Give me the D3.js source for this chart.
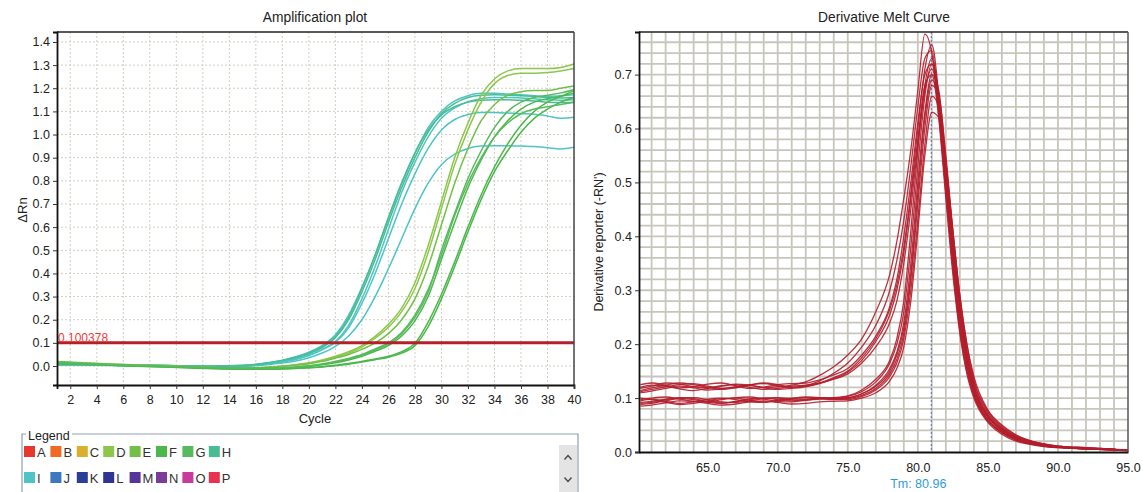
<!DOCTYPE html>
<html>
<head>
<meta charset="utf-8">
<script src="https://cdn.jsdelivr.net/npm/d3@7"></script>
<style>
  body { margin: 0; background: #fff; }
  svg text { font-family: Arial, "Liberation Sans", sans-serif; fill: #222; }
</style>
</head>
<body>
<svg id="chart" width="1143" height="492"></svg>
<script>

// ---------------- data : amplification plot ----------------
const ampCycles = [1, 3, 5, 7, 9, 11, 13, 15, 17, 18, 19, 20, 21, 22, 23, 24, 25, 26, 27, 28,
                   29, 30, 31, 32, 33, 34, 35, 36, 37, 38, 39, 40];
const ampXTicks = [2, 4, 6, 8, 10, 12, 14, 16, 18, 20, 22, 24, 26, 28, 30, 32, 34, 36, 38, 40];
const ampYTicks = [0.0, 0.1, 0.2, 0.3, 0.4, 0.5, 0.6, 0.7, 0.8, 0.9, 1.0, 1.1, 1.2, 1.3, 1.4];
const threshold = 0.100378;

// which well each curve belongs to
const ampWells = ['I', 'H', 'I', 'I', 'I', 'H', 'D', 'D', 'E', 'G', 'F', 'F', 'F', 'G'];
const ampValues = [
  [0.008,0.006,0.004,0.003,0.002,0.001,0.0,0.003,0.015,0.025,0.04,0.06,0.088,0.135,0.22,0.34,0.48,0.64,0.79,0.92,1.03,1.1,1.145,1.168,1.178,1.178,1.175,1.172,1.168,1.165,1.168,1.172],
  [0.01,0.007,0.005,0.003,0.002,0.001,0.0,0.002,0.013,0.022,0.035,0.053,0.08,0.122,0.2,0.32,0.46,0.62,0.77,0.9,1.01,1.09,1.135,1.16,1.17,1.172,1.17,1.168,1.165,1.16,1.158,1.16],
  [0.006,0.005,0.004,0.003,0.002,0.0,-0.002,0.0,0.01,0.018,0.03,0.047,0.072,0.106,0.175,0.29,0.43,0.59,0.75,0.88,0.99,1.07,1.115,1.142,1.155,1.16,1.16,1.158,1.155,1.15,1.148,1.15],
  [0.005,0.004,0.003,0.002,0.001,0.0,-0.002,0.0,0.01,0.017,0.028,0.045,0.07,0.102,0.165,0.27,0.4,0.55,0.7,0.83,0.94,1.02,1.065,1.087,1.095,1.095,1.093,1.09,1.088,1.08,1.07,1.075],
  [0.004,0.003,0.002,0.001,0.0,-0.001,-0.003,-0.002,0.007,0.013,0.022,0.036,0.056,0.085,0.13,0.2,0.3,0.42,0.55,0.68,0.79,0.87,0.915,0.94,0.95,0.952,0.952,0.95,0.948,0.943,0.938,0.945],
  [0.012,0.008,0.005,0.003,0.002,0.0,-0.001,0.001,0.014,0.024,0.038,0.057,0.085,0.128,0.21,0.335,0.48,0.64,0.79,0.92,1.02,1.085,1.12,1.14,1.148,1.15,1.15,1.148,1.145,1.14,1.138,1.14],
  [0.018,0.012,0.008,0.004,0.001,-0.003,-0.007,-0.008,-0.004,0.0,0.006,0.014,0.026,0.042,0.062,0.088,0.128,0.18,0.25,0.36,0.52,0.71,0.9,1.05,1.17,1.24,1.275,1.285,1.285,1.285,1.29,1.305],
  [0.016,0.011,0.007,0.003,0.0,-0.004,-0.008,-0.009,-0.005,-0.001,0.004,0.012,0.023,0.038,0.056,0.082,0.12,0.168,0.235,0.335,0.49,0.68,0.87,1.02,1.14,1.22,1.255,1.265,1.265,1.268,1.275,1.285],
  [0.02,0.014,0.009,0.005,0.001,-0.003,-0.007,-0.009,-0.006,-0.002,0.003,0.01,0.02,0.034,0.05,0.072,0.1,0.14,0.2,0.29,0.43,0.61,0.79,0.94,1.06,1.13,1.17,1.185,1.19,1.19,1.2,1.21],
  [0.015,0.01,0.006,0.002,-0.001,-0.005,-0.009,-0.011,-0.01,-0.008,-0.005,0.0,0.008,0.018,0.03,0.047,0.07,0.095,0.14,0.21,0.32,0.5,0.66,0.81,0.93,1.03,1.1,1.14,1.16,1.17,1.18,1.195],
  [0.013,0.009,0.005,0.001,-0.002,-0.006,-0.01,-0.012,-0.011,-0.009,-0.006,-0.002,0.005,0.014,0.026,0.042,0.064,0.088,0.13,0.195,0.3,0.46,0.62,0.77,0.89,0.99,1.06,1.11,1.14,1.155,1.165,1.18],
  [0.012,0.008,0.004,0.0,-0.003,-0.007,-0.011,-0.013,-0.013,-0.012,-0.01,-0.007,-0.003,0.003,0.011,0.02,0.03,0.042,0.062,0.098,0.19,0.31,0.45,0.6,0.74,0.86,0.96,1.04,1.1,1.14,1.165,1.19],
  [0.01,0.007,0.003,-0.001,-0.004,-0.008,-0.012,-0.014,-0.014,-0.013,-0.011,-0.008,-0.004,0.001,0.008,0.017,0.027,0.038,0.056,0.088,0.17,0.29,0.43,0.58,0.72,0.84,0.93,1.01,1.07,1.11,1.14,1.16],
  [0.014,0.01,0.005,0.001,-0.002,-0.005,-0.008,-0.01,-0.009,-0.007,-0.004,0.001,0.009,0.02,0.033,0.05,0.074,0.1,0.145,0.22,0.33,0.48,0.65,0.79,0.9,0.99,1.05,1.09,1.11,1.12,1.13,1.14]
];

// legend
const wellNames = ['A','B','C','D','E','F','G','H','I','J','K','L','M','N','O','P'];

// ---------------- data : melt curve ----------------
const meltTemps = [60.2, 61, 62, 63, 64, 65, 66, 67, 68, 69, 70, 71, 72, 73, 74, 75, 76, 77, 78, 78.5,
                   79, 79.5, 80, 80.5, 81, 81.5, 82, 82.5, 83, 83.5, 84, 85, 86, 87, 88, 89, 90, 92, 94, 95];
const meltXTicks = [65, 70, 75, 80, 85, 90, 95];
const meltYTicks = [0.0, 0.1, 0.2, 0.3, 0.4, 0.5, 0.6, 0.7];
const meltTm = 80.96;
const meltValues = [
  [0.118,0.122,0.128,0.126,0.121,0.119,0.122,0.126,0.124,0.12,0.121,0.124,0.13,0.142,0.158,0.18,0.21,0.26,0.33,0.39,0.47,0.56,0.67,0.775,0.74,0.62,0.47,0.33,0.22,0.145,0.1,0.055,0.033,0.02,0.014,0.01,0.008,0.006,0.005,0.003],
  [0.112,0.116,0.121,0.125,0.127,0.122,0.118,0.12,0.125,0.127,0.123,0.12,0.123,0.132,0.146,0.165,0.195,0.235,0.3,0.355,0.43,0.53,0.64,0.73,0.745,0.63,0.48,0.34,0.225,0.15,0.105,0.058,0.036,0.022,0.015,0.011,0.009,0.006,0.004,0.003],
  [0.125,0.128,0.124,0.119,0.121,0.126,0.128,0.123,0.118,0.12,0.125,0.127,0.128,0.134,0.143,0.155,0.18,0.215,0.27,0.32,0.4,0.5,0.61,0.7,0.72,0.64,0.5,0.36,0.24,0.16,0.11,0.06,0.038,0.024,0.016,0.012,0.009,0.006,0.004,0.003],
  [0.11,0.113,0.118,0.122,0.119,0.115,0.117,0.121,0.123,0.119,0.116,0.118,0.121,0.127,0.136,0.148,0.17,0.205,0.255,0.3,0.37,0.47,0.58,0.68,0.7,0.62,0.49,0.35,0.235,0.155,0.105,0.058,0.036,0.023,0.016,0.012,0.009,0.006,0.004,0.003],
  [0.12,0.124,0.122,0.117,0.114,0.118,0.123,0.125,0.12,0.116,0.118,0.122,0.124,0.128,0.135,0.145,0.165,0.195,0.24,0.28,0.35,0.45,0.57,0.67,0.71,0.65,0.52,0.38,0.26,0.17,0.115,0.064,0.04,0.026,0.017,0.012,0.009,0.006,0.004,0.003],
  [0.114,0.119,0.124,0.128,0.125,0.12,0.116,0.119,0.124,0.128,0.125,0.12,0.122,0.128,0.138,0.15,0.175,0.21,0.265,0.31,0.38,0.48,0.6,0.71,0.755,0.66,0.51,0.36,0.24,0.16,0.11,0.06,0.037,0.024,0.016,0.011,0.008,0.006,0.004,0.002],
  [0.095,0.098,0.094,0.09,0.093,0.098,0.1,0.097,0.093,0.092,0.096,0.1,0.101,0.1,0.1,0.103,0.112,0.13,0.165,0.2,0.26,0.38,0.53,0.66,0.72,0.66,0.52,0.38,0.26,0.175,0.12,0.066,0.042,0.027,0.018,0.013,0.01,0.007,0.005,0.003],
  [0.088,0.09,0.095,0.099,0.097,0.092,0.09,0.094,0.099,0.1,0.097,0.095,0.097,0.1,0.099,0.1,0.108,0.124,0.155,0.185,0.24,0.35,0.5,0.63,0.7,0.67,0.54,0.4,0.275,0.185,0.125,0.07,0.044,0.028,0.019,0.013,0.01,0.007,0.005,0.003],
  [0.1,0.097,0.092,0.088,0.09,0.095,0.099,0.1,0.096,0.093,0.095,0.099,0.102,0.101,0.098,0.099,0.105,0.118,0.145,0.172,0.22,0.32,0.46,0.6,0.68,0.66,0.55,0.41,0.285,0.19,0.13,0.073,0.046,0.03,0.02,0.014,0.011,0.007,0.005,0.003],
  [0.092,0.094,0.098,0.101,0.099,0.094,0.091,0.093,0.097,0.1,0.1,0.097,0.096,0.098,0.097,0.097,0.103,0.115,0.14,0.165,0.21,0.3,0.43,0.57,0.66,0.64,0.54,0.41,0.29,0.2,0.135,0.076,0.048,0.031,0.021,0.015,0.011,0.008,0.005,0.004],
  [0.085,0.087,0.091,0.095,0.094,0.09,0.087,0.089,0.093,0.095,0.092,0.089,0.09,0.093,0.094,0.095,0.1,0.11,0.132,0.155,0.195,0.28,0.41,0.55,0.63,0.62,0.53,0.41,0.29,0.2,0.14,0.078,0.05,0.032,0.021,0.015,0.011,0.008,0.005,0.004],
  [0.097,0.1,0.102,0.098,0.094,0.093,0.097,0.101,0.102,0.098,0.094,0.093,0.096,0.099,0.1,0.101,0.108,0.122,0.15,0.18,0.23,0.33,0.48,0.62,0.69,0.65,0.53,0.39,0.27,0.18,0.122,0.068,0.043,0.028,0.019,0.013,0.01,0.007,0.005,0.003],
  [0.09,0.092,0.097,0.1,0.101,0.097,0.093,0.092,0.095,0.099,0.101,0.099,0.098,0.1,0.101,0.104,0.115,0.135,0.17,0.21,0.28,0.41,0.56,0.68,0.73,0.66,0.51,0.37,0.255,0.17,0.118,0.065,0.041,0.026,0.018,0.013,0.01,0.007,0.005,0.003]
];

// ---------------- styles ----------------
const wellColors = {
  A: '#e8372c', B: '#f06a25', C: '#d9b02c', D: '#8cc64a', E: '#72bf4a', F: '#4cb84b',
  G: '#58ba5e', H: '#48bd93', I: '#4ec4c6', J: '#3a78bf', K: '#2c3d95', L: '#2f3391',
  M: '#573497', N: '#7d3a98', O: '#c83a9c', P: '#e8334f'
};
const meltColor = '#b21d2b';
const fontTick = '12.5px';

const svg = d3.select('#chart');

// =========================================================
// Amplification plot
// =========================================================
const ax = d3.scaleLinear().domain([1, 40]).range([57, 574]);
const ay = d3.scaleLinear().domain([-0.082, 1.443]).range([385, 32]);
const amp = svg.append('g').attr('class', 'amp');

// dotted grid
amp.append('g').selectAll('line')
  .data(ampXTicks.filter(d => d < 40))
  .join('line')
  .attr('x1', d => ax(d)).attr('x2', d => ax(d))
  .attr('y1', ay.range()[1]).attr('y2', ay.range()[0])
  .attr('stroke', '#d2cfc3').attr('stroke-dasharray', '2,2');
amp.append('g').selectAll('line')
  .data(ampYTicks)
  .join('line')
  .attr('x1', ax.range()[0]).attr('x2', ax.range()[1])
  .attr('y1', d => ay(d)).attr('y2', d => ay(d))
  .attr('stroke', '#d2cfc3').attr('stroke-dasharray', '2,2');

// curves
const ampLine = d3.line()
  .x(d => ax(d[0]))
  .y(d => ay(d[1]))
  .curve(d3.curveMonotoneX);

amp.append('g').selectAll('path')
  .data(ampValues)
  .join('path')
  .attr('d', vals => ampLine(vals.map((v, i) => [ampCycles[i], v])))
  .attr('fill', 'none')
  .attr('stroke', (d, i) => wellColors[ampWells[i]])
  .attr('stroke-width', 1.5);

// threshold
amp.append('line')
  .attr('x1', ax.range()[0]).attr('x2', ax.range()[1])
  .attr('y1', ay(threshold)).attr('y2', ay(threshold))
  .attr('stroke', '#b51f2a').attr('stroke-width', 3);
amp.append('text')
  .attr('x', ax.range()[0] + 1).attr('y', ay(threshold) - 1)
  .style('font-size', '12px').style('fill', '#f03a3a')
  .text(threshold.toString());

// frame
amp.append('line').attr('x1', 57).attr('x2', 574).attr('y1', 32).attr('y2', 32)
  .attr('stroke', '#222').attr('stroke-width', 1.5);
amp.append('line').attr('x1', 574).attr('x2', 574).attr('y1', 32).attr('y2', 385)
  .attr('stroke', '#444').attr('stroke-width', 1.5);

// axes
const ampYAxis = amp.append('g')
  .attr('transform', `translate(${ax.range()[0]},0)`)
  .call(d3.axisLeft(ay).tickValues(ampYTicks).tickFormat(d3.format('.1f')).tickSize(4).tickPadding(3));
const ampXAxis = amp.append('g')
  .attr('transform', `translate(0,${ay.range()[0]})`)
  .call(d3.axisBottom(ax).tickValues(ampXTicks).tickSize(4).tickPadding(6));
[ampYAxis, ampXAxis].forEach(g => {
  g.select('.domain').attr('stroke', '#111').attr('stroke-width', 1.8);
  g.selectAll('.tick line').attr('stroke', '#333');
  g.selectAll('.tick text').style('font-size', fontTick).style('fill', '#222');
});

// titles
amp.append('text').attr('x', 315).attr('y', 22).attr('text-anchor', 'middle')
  .style('font-size', '13.8px').text('Amplification plot');
amp.append('text').attr('x', 315).attr('y', 423).attr('text-anchor', 'middle')
  .style('font-size', '13px').text('Cycle');
amp.append('text').attr('transform', 'translate(27,210) rotate(-90)').attr('text-anchor', 'middle')
  .style('font-size', '13px').text('ΔRn');

// legend box
const lg = svg.append('g').attr('class', 'legend');
lg.append('path')
  .attr('d', 'M26,434 H22 V500 M578,500 V434 H72')
  .attr('fill', 'none').attr('stroke', '#8fa0b3').attr('stroke-width', 1.2);
lg.append('text').attr('x', 28).attr('y', 440).style('font-size', '12.5px').text('Legend');

const items = lg.selectAll('g.item')
  .data(wellNames)
  .join('g')
  .attr('class', 'item')
  .attr('transform', (d, i) => `translate(${24 + (i % 8) * 26.4},${446 + Math.floor(i / 8) * 26})`);
items.append('rect')
  .attr('width', 11).attr('height', 11)
  .attr('fill', d => wellColors[d]);
items.append('text')
  .attr('x', 13).attr('y', 10.5)
  .style('font-size', '13px').style('fill', '#333')
  .text(d => d);

// scroll bar
lg.append('rect').attr('x', 559).attr('y', 445).attr('width', 18).attr('height', 50).attr('fill', '#e4e4e4');
lg.append('polyline').attr('points', '564.5,459.5 568,455.5 571.5,459.5')
  .attr('fill', 'none').attr('stroke', '#444').attr('stroke-width', 1.3);
lg.append('polyline').attr('points', '564.5,477.5 568,481.5 571.5,477.5')
  .attr('fill', 'none').attr('stroke', '#444').attr('stroke-width', 1.3);

// =========================================================
// Derivative melt curve
// =========================================================
const mx = d3.scaleLinear().domain([60.1, 95]).range([639, 1128]);
const my = d3.scaleLinear().domain([0, 0.779]).range([452, 32]);
const melt = svg.append('g').attr('class', 'melt');

// dense grid: 1 degree, 0.02 units
melt.append('g').selectAll('line')
  .data(d3.range(61, 95))
  .join('line')
  .attr('x1', d => mx(d)).attr('x2', d => mx(d))
  .attr('y1', my.range()[1]).attr('y2', my.range()[0])
  .attr('stroke', '#c7c6bd').attr('stroke-width', 1.8);
melt.append('g').selectAll('line')
  .data(d3.range(1, 39).map(i => i * 0.02))
  .join('line')
  .attr('x1', mx.range()[0]).attr('x2', mx.range()[1])
  .attr('y1', d => my(d)).attr('y2', d => my(d))
  .attr('stroke', '#c7c6bd').attr('stroke-width', 1.8);

// Tm marker
melt.append('line')
  .attr('x1', mx(meltTm)).attr('x2', mx(meltTm))
  .attr('y1', my.range()[1]).attr('y2', my.range()[0])
  .attr('stroke', '#4d72c4').attr('stroke-width', 1).attr('stroke-dasharray', '2,2');

// curves
const meltLine = d3.line()
  .x(d => mx(d[0]))
  .y(d => my(d[1]))
  .curve(d3.curveMonotoneX);

melt.append('g').selectAll('path')
  .data(meltValues)
  .join('path')
  .attr('d', vals => meltLine(vals.map((v, i) => [meltTemps[i], v])))
  .attr('fill', 'none')
  .attr('stroke', meltColor)
  .attr('stroke-opacity', 0.9)
  .attr('stroke-width', 1.3);

// frame
melt.append('line').attr('x1', 639).attr('x2', 1128).attr('y1', 32).attr('y2', 32)
  .attr('stroke', '#222').attr('stroke-width', 1.5);
melt.append('line').attr('x1', 1128).attr('x2', 1128).attr('y1', 32).attr('y2', 452)
  .attr('stroke', '#555').attr('stroke-width', 1.5);

const meltYAxis = melt.append('g')
  .attr('transform', `translate(${mx.range()[0]},0)`)
  .call(d3.axisLeft(my).tickValues(meltYTicks).tickFormat(d3.format('.1f')).tickSize(4).tickPadding(3));
const meltXAxis = melt.append('g')
  .attr('transform', `translate(0,${my.range()[0]})`)
  .call(d3.axisBottom(mx).tickValues(meltXTicks).tickFormat(d3.format('.1f')).tickSize(0).tickPadding(11));
[meltYAxis, meltXAxis].forEach(g => {
  g.select('.domain').attr('stroke', '#111').attr('stroke-width', 1.8);
  g.selectAll('.tick line').attr('stroke', '#333');
  g.selectAll('.tick text').style('font-size', fontTick).style('fill', '#222');
});

melt.append('text').attr('x', 884).attr('y', 22).attr('text-anchor', 'middle')
  .style('font-size', '13.8px').text('Derivative Melt Curve');
melt.append('text').attr('transform', 'translate(603,242) rotate(-90)').attr('text-anchor', 'middle')
  .style('font-size', '12.5px').text("Derivative reporter (-RN')");
melt.append('text').attr('x', mx(meltTm) - 13).attr('y', 488).attr('text-anchor', 'middle')
  .style('font-size', '12.5px').style('fill', '#2e9be0')
  .text('Tm: ' + meltTm.toFixed(2));

</script>
</body>
</html>
